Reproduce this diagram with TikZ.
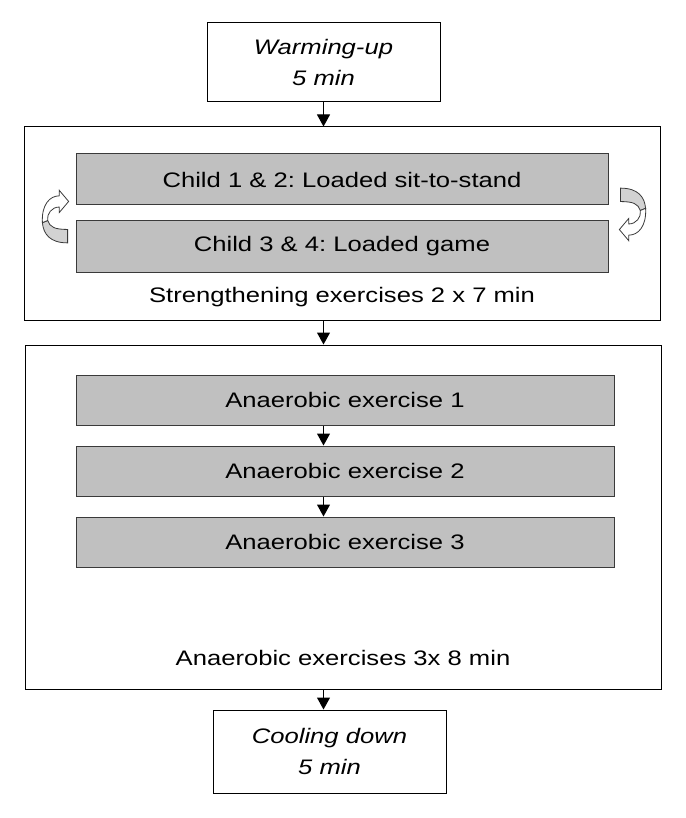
\documentclass[tikz,border=0pt]{standalone}
\usepackage{fontspec}
\setmainfont{Liberation Sans}[FakeStretch=1.22]
\usetikzlibrary{arrows.meta,positioning}
\definecolor{taskgray}{HTML}{C0C0C0}
\definecolor{edgegray}{HTML}{3A3A3A}
\definecolor{bandgray}{HTML}{D2D2D2}
\frenchspacing

\begin{document}
\begin{tikzpicture}[
  x=1pt,y=1pt,
  font=\fontsize{21}{27}\selectfont,
  phase/.style={draw=black,line width=1pt,minimum width=233pt,align=center,font=\fontsize{21}{31}\selectfont\itshape},
  block/.style={draw=black,line width=1pt,minimum width=636pt},
  task/.style={draw=edgegray,fill=taskgray,line width=1pt,minimum height=51pt},
  arr/.style={-{Triangle[length=12pt,width=13pt]},line width=1pt},
  turnarrow/.pic={
    \draw[draw=edgegray,line width=.8pt,fill=bandgray] (12,-12) -- (12,-24) .. controls (-5,-24) and (-11,-16) .. (-12,-6) -- (-7,-4) .. controls (-5,-10) and (0,-12) .. (12,-12) -- cycle;
    \draw[draw=edgegray,line width=.8pt,fill=white] (-12,-6) .. controls (-13,10) and (-5,18) .. (4,18) -- (4,23) -- (13,13) -- (4,3) -- (4,8) .. controls (-3,8) and (-8,2) .. (-7,-4) -- cycle;
  }
]
\useasboundingbox (0,0) rectangle (685,-818);
% warming-up
\node[phase,minimum height=79pt] (warm) at (323.5,-62.5) {Warming-up\\5 min};
% strengthening
\node[block,minimum height=193pt] (strbox) at (342.5,-223.5) {};
\node[task,minimum width=532pt] (child12) at (342,-179.5) {Child 1 \& 2: Loaded sit-to-stand};
\node[task,minimum width=532pt,below=15pt of child12] (child34) {Child 3 \& 4: Loaded game};
\node (strtxt) at (342,-297) {Strengthening exercises 2 x 7 min};
\pic[yscale=1.12,xscale=1.05] at (55,-216) {turnarrow};
\pic[rotate=180,yscale=1.12,xscale=1.05] at (633,-215) {turnarrow};
% anaerobic
\node[block,minimum height=344pt] (anbox) at (343,-517) {};
\node[task,minimum width=538pt,minimum height=50pt] (an1) at (345,-400) {Anaerobic exercise 1};
\node[task,minimum width=538pt,minimum height=50pt,below=20pt of an1] (an2) {Anaerobic exercise 2};
\node[task,minimum width=538pt,minimum height=50pt,below=20pt of an2] (an3) {Anaerobic exercise 3};
\node (antxt) at (343,-658) {Anaerobic exercises 3x 8 min};
% cooling down
\node[phase,minimum height=83pt] (cool) at (329.5,-751.5) {Cooling down\\5 min};
\draw[arr] (warm.south) -- (warm.south |- strbox.north);
\draw[arr] (warm.south |- strbox.south) -- (warm.south |- anbox.north);
\draw[arr] (warm.south |- an1.south) -- (warm.south |- an2.north);
\draw[arr] (warm.south |- an2.south) -- (warm.south |- an3.north);
\draw[arr] (warm.south |- anbox.south) -- (warm.south |- cool.north);
\end{tikzpicture}
\end{document}
